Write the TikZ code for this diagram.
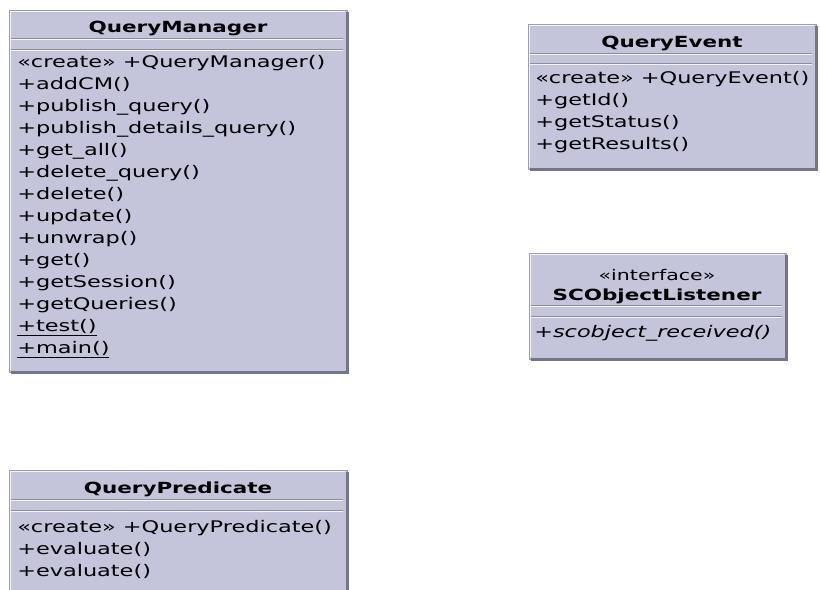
\documentclass[tikz,border=0pt]{standalone}
\usepackage{fontspec}
\newfontfamily\umlfont[FakeStretch=1.4]{DejaVu Sans}
\usetikzlibrary{positioning}
\definecolor{umlfill}{HTML}{C4C4DB}
\definecolor{umledge}{HTML}{9C9CB4}
\definecolor{umlshadow}{HTML}{74748A}
\definecolor{umlsep}{HTML}{8C8CA0}

\tikzset{
	classbox/.style={fill=umlfill, draw=umledge, line width=0.75pt},
	boxshadow/.style={draw=umlshadow, line width=2.25pt},
	sepline/.style={draw=umlsep, line width=0.75pt},
	sephigh/.style={draw=white!80!umlfill, line width=0.75pt},
	classname/.style={anchor=base, inner sep=0pt, font=\umlfont\bfseries\fontsize{11.5}{14}\selectfont},
	stereo/.style={anchor=base, inner sep=0pt, font=\umlfont\fontsize{11}{14}\selectfont},
	member/.style={anchor=base west, inner sep=0pt, font=\umlfont\fontsize{12}{14}\selectfont}
}

\begin{document}
\begin{tikzpicture}[x=0.75pt, y=-0.75pt]
	
	\useasboundingbox (0,0) rectangle (820,589);
	\clip (0,0) rectangle (820,589);
	
	% class frames
	\foreach \xa/\ya/\xb/\yb/\sa/\sb in {9/10/347/372/38/49, 528/24/816/169/53/63,
		529/253/786/359/305/316, 9/470/347/600/499/510}{
		\path[classbox] (\xa,\ya) rectangle (\xb,\yb);
		\draw[sephigh] (\xa+1.5,\yb-2) -- (\xa+1.5,\ya+1.5) -- (\xb-2,\ya+1.5);
		\draw[boxshadow] (\xb+0.5,\ya+2) -- (\xb+0.5,\yb+0.5) -- (\xa+2,\yb+0.5);
		\draw[sepline] (\xa+2,\sa) -- (\xb-4,\sa);
		\draw[sephigh] (\xa+2,\sa+1.5) -- (\xb-4,\sa+1.5);
		\draw[sepline] (\xa+2,\sb) -- (\xb-4,\sb);
		\draw[sephigh] (\xa+2,\sb+1.5) -- (\xb-4,\sb+1.5);
	}
	
	% QueryManager
	\node[classname] (qm) at (178,32) {QueryManager};
	\foreach \m [count=\i from 0] in {{«create» +QueryManager()}, {+addCM()},
		{+publish\_query()}, {+publish\_details\_query()}, {+get\_all()},
		{+delete\_query()}, {+delete()}, {+update()}, {+unwrap()}, {+get()},
		{+getSession()}, {+getQueries()}, {\underline{+test()}}, {\underline{+main()}}}
		\node[member] (qm-m\i) at (17,67+22*\i) {\m};
	
	% QueryEvent
	\node[classname] (qe) at (672,47) {QueryEvent};
	\foreach \m [count=\i from 0] in {{«create» +QueryEvent()}, {+getId()},
		{+getStatus()}, {+getResults()}}
		\node[member] (qe-m\i) at (535,83+22*\i) {\m};
	
	% SCObjectListener
	\node[stereo] (sc-st) at (657,280) {«interface»};
	\node[classname] (sc) at (657,300) {SCObjectListener};
	\node[member, font=\umlfont\itshape\fontsize{12}{14}\selectfont] (sc-m0) at (534,337) {+scobject\_received()};
	
	% QueryPredicate
	\node[classname] (qp) at (178,493) {QueryPredicate};
	\foreach \m [count=\i from 0] in {{«create» +QueryPredicate()}, {+evaluate()},
		{+evaluate()}}
		\node[member] (qp-m\i) at (17,532+22*\i) {\m};
	
\end{tikzpicture}
\end{document}
